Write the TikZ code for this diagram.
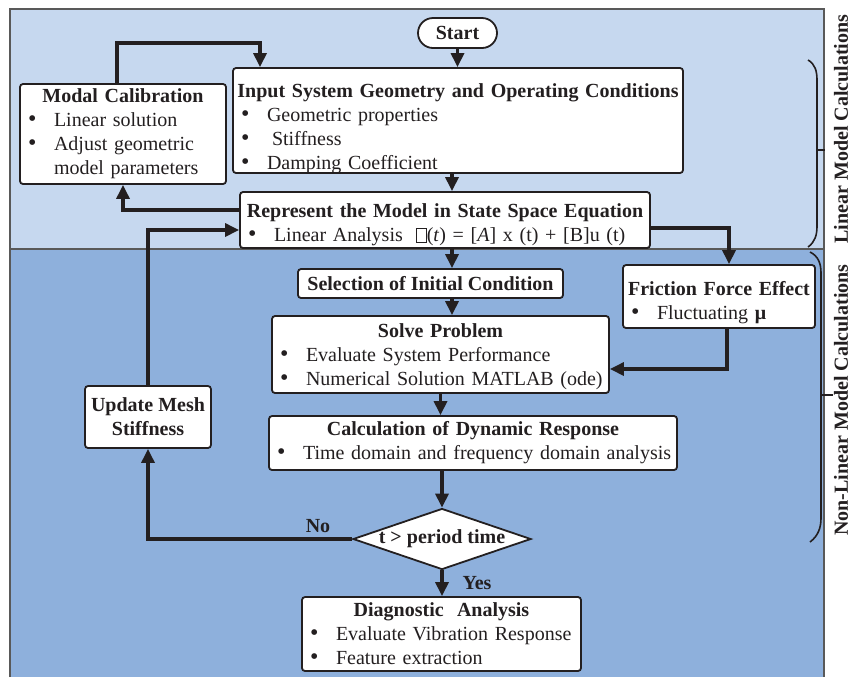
\documentclass[tikz,border=0pt]{standalone}
\usepackage{fontspec}
\setmainfont{Liberation Serif}
\usepackage{xcolor}
\usepackage{tikz}
\usetikzlibrary{
    shapes,
    shapes.geometric,
    positioning,
    calc,
    arrows.meta
}
\definecolor{linearbg}{HTML}{C6D8EF}
\definecolor{nonlinbg}{HTML}{8EB0DC}
\definecolor{ink}{HTML}{231F20}
\newlength{\linedrop}
\newcommand{\boxtitle}[1]{\raisebox{-\linedrop}[\height][\depth]{\makebox[\linewidth][c]{\bfseries #1}}}
\newcommand{\bul}[1]{\raisebox{-\linedrop}[\height][\depth]{\makebox[\linewidth][l]{\makebox[14pt][l]{\hspace{1pt}\scalebox{1.2}{\textbullet}}#1}}}
\newcommand{\cont}[1]{\raisebox{-\linedrop}[\height][\depth]{\makebox[\linewidth][l]{\hspace{14pt}#1}}}
\newcommand{\missingglyph}{{\setlength{\fboxsep}{0pt}\setlength{\fboxrule}{0.4pt}\fbox{\rule{0pt}{6.5pt}\hspace{4.5pt}}}}
\tikzset{
  basic/.style = {
      draw=ink,
      fill=white,
      line width=0.9pt,
      text=ink,
      font=\fontsize{10}{12}\selectfont,
      inner xsep=3pt,
      inner ysep=1pt
  },
  block/.style = {
      basic,
      rectangle,
      rounded corners=1.5pt,
      align=left
  },
  drop/.style = {
      execute at begin node={\setlength{\linedrop}{#1}}
  },
  titlebox/.style = {
      block,
      align=center,
      font=\fontsize{10}{12}\selectfont\bfseries
  },
  terminal/.style = {
      basic,
      rectangle,
      rounded corners=7.5pt,
      font=\fontsize{10}{12}\selectfont\bfseries
  },
  decision/.style = {
      basic,
      diamond,
      inner sep=0pt,
      font=\fontsize{10}{12}\selectfont\bfseries
  },
  edge/.style = {
      draw=ink,
      line width=1.6pt,
      -{Triangle[length=7pt,width=6.5pt]}
  },
  tag/.style = {
      text=ink,
      font=\fontsize{10}{12}\selectfont\bfseries
  },
  sidetext/.style = {
      text=ink,
      rotate=90,
      font=\fontsize{10}{12}\selectfont\bfseries
  },
  bracket/.style = {
      draw=ink,
      line width=0.8pt
  },
  frame/.style = {
      draw=black!65,
      line width=0.6pt
  }
}

\begin{document}
\begin{tikzpicture}[x=0.5pt, y=-0.5pt]
        \useasboundingbox (0,0) rectangle (851,677);
        % Regions
        \fill[linearbg] (10,9) rectangle (824,249);
        \fill[nonlinbg] (10,249) rectangle (824,677);
        \draw[frame] (10,677) -- (10,9) -- (824,9) -- (824,677);
        \draw[frame] (10,249) -- (824,249);
        % Brackets
        \draw[bracket] (808,60) .. controls (815,64) and (817,71) .. (817,80)
            -- (817,226) .. controls (817,235) and (815,242) .. (808,247);
        \draw[bracket] (817,150) -- (825,150);
        \draw[bracket] (810,252) .. controls (818,256) and (821,263) .. (821,273)
            -- (821,518) .. controls (821,528) and (818,536) .. (810,542);
        \draw[bracket] (821,395) -- (833,395);
        \node[sidetext] (linlabel) at (841,129) {Linear Model Calculations};
        \node[sidetext] (nonlinlabel) at (841,400) {Non-Linear Model Calculations};
        % Nodes
        \node[terminal, minimum width=39.5pt, minimum height=15pt] (start) at (457.5,33) {Start};
        \node[block, drop=4pt, text width=219pt, minimum height=52.5pt] (input) at (458,120.5)
            {\boxtitle{Input System Geometry and Operating Conditions}\\
             \bul{Geometric properties}\\
             \bul{\hspace{2.5pt}Stiffness}\\
             \bul{Damping Coefficient}};
        \node[block, text width=97pt, minimum height=50pt] (modal) at (123,134)
            {\boxtitle{Modal Calibration}\\
             \bul{Linear solution}\\
             \bul{Adjust geometric}\\
             \cont{model parameters}};
        \node[block, drop=2.5pt, text width=199pt, minimum height=28pt] (repr) at (445,220)
            {\boxtitle{Represent the Model in State Space Equation}\\
             \bul{Linear Analysis\ \ \missingglyph(\textit{t}) = [\textit{A}] x (t) + [B]u (t)}};
        \node[titlebox, minimum width=132.5pt, minimum height=14.5pt] (select) at (430.5,283.5)
            {Selection of Initial Condition};
        \node[block, drop=1pt, text width=162.5pt, minimum height=38.5pt] (solve) at (440.5,354.5)
            {\boxtitle{Solve Problem}\\
             \bul{Evaluate System Performance}\\
             \bul{Numerical Solution MATLAB (ode)}};
        \node[block, text width=198pt, minimum height=27pt] (dynamic) at (473,443)
            {\boxtitle{Calculation of Dynamic Response}\\
             \bul{Time domain and frequency domain analysis}};
        \node[block, drop=3pt, text width=90pt, minimum height=31.5pt] (friction) at (719,296.5)
            {\boxtitle{Friction Force Effect}\\
             \bul{Fluctuating \textbf{μ}}};
        \node[titlebox, minimum width=62pt, minimum height=31pt] (update) at (148,417)
            {Update Mesh\\Stiffness};
        \node[decision, minimum width=89pt, minimum height=30.5pt] (check) at (442,539)
            {\makebox[0pt]{t > period time}};
        \node[block, text width=133.5pt, minimum height=37pt] (diag) at (441.5,634)
            {\boxtitle{Diagnostic\ \ Analysis}\\
             \bul{Evaluate Vibration Response}\\
             \bul{Feature extraction}};
        % Labels
        \node[tag] (no) at (318,526) {No};
        \node[tag] (yes) at (477,583) {Yes};
        % Corner points
        \coordinate (spine) at (452,0);
        \coordinate (mtop) at (117,43);
        \coordinate (itop) at (260,43);
        \coordinate (rleft) at (123,210);
        \coordinate (uleft) at (148,230);
        \coordinate (fturn) at (729,228);
        \coordinate (sturn) at (727,369);
        % Edges
        \draw[edge] (start.south) -- (start.south |- input.north);
        \draw[edge] (input.south -| spine) -- (repr.north -| spine);
        \draw[edge] (modal.north -| mtop) -- (mtop) -- (itop) -- (input.north -| itop);
        \draw[edge] (repr.west |- rleft) -| (modal.south);
        \draw[edge] (update.north) |- (repr.west |- uleft);
        \draw[edge] (repr.east |- fturn) -- (fturn) -- (friction.north -| fturn);
        \draw[edge] (friction.south -| sturn) -- (sturn) -- (solve.east |- sturn);
        \draw[edge] (repr.south -| spine) -- (select.north -| spine);
        \draw[edge] (select.south -| spine) -- (solve.north -| spine);
        \draw[edge] (solve.south) -- (solve.south |- dynamic.north);
        \draw[edge] (check.north |- dynamic.south) -- (check.north);
        \draw[edge] (check.south) -- (check.south |- diag.north);
        \draw[edge] (check.west) -| (update.south);
    \end{tikzpicture}
\end{document}
